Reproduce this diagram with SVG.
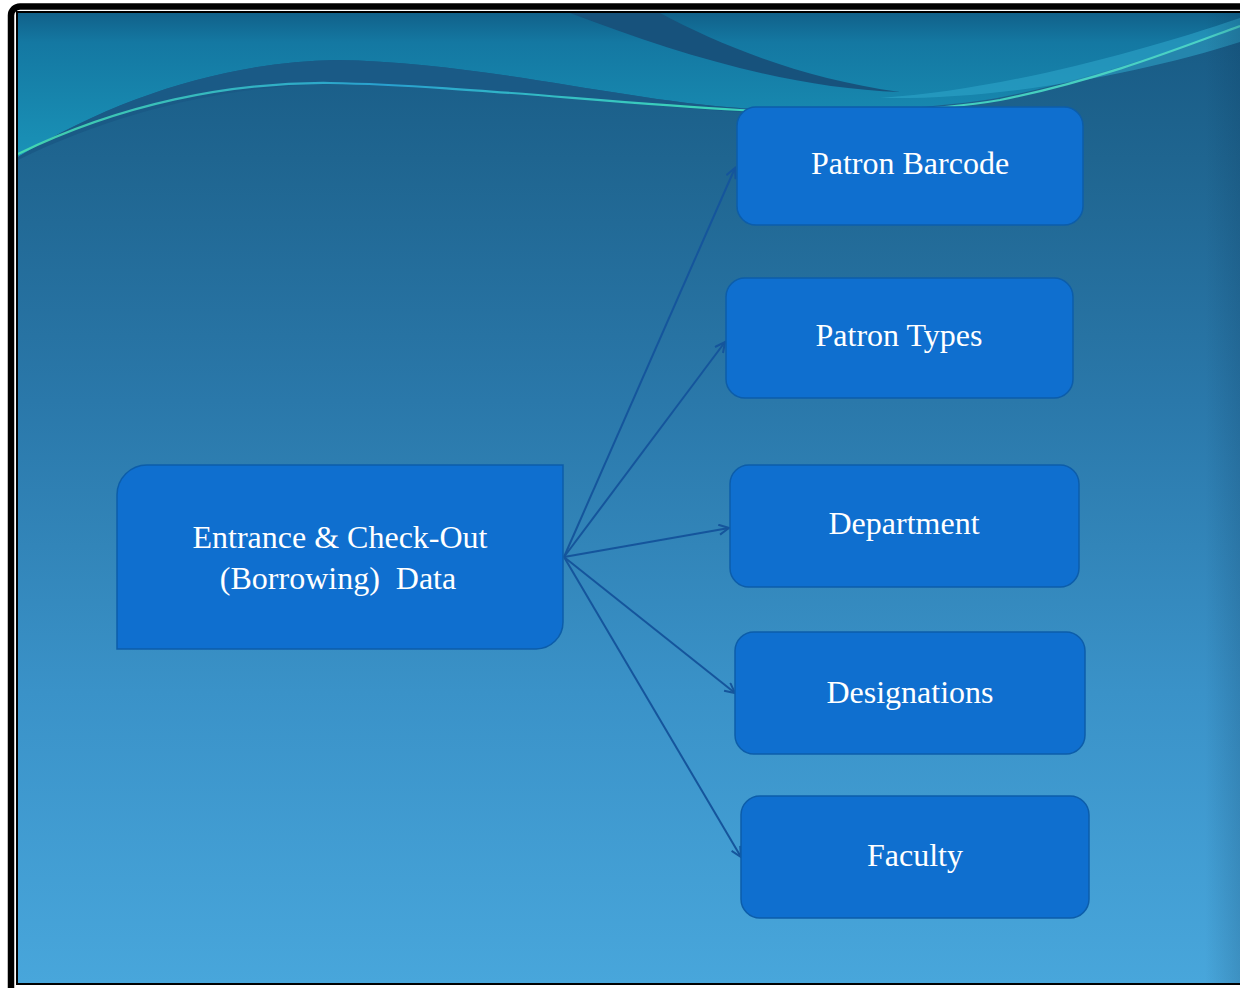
<svg xmlns="http://www.w3.org/2000/svg" width="1240" height="988" viewBox="0 0 1240 988">
  <defs>
    <linearGradient id="bg" x1="0" y1="13" x2="0" y2="983" gradientUnits="userSpaceOnUse">
      <stop offset="0" stop-color="#175a84"/>
      <stop offset="0.15" stop-color="#1f6590"/>
      <stop offset="0.4" stop-color="#2a78aa"/>
      <stop offset="0.7" stop-color="#3a92c8"/>
      <stop offset="1" stop-color="#48a6db"/>
    </linearGradient>
    <linearGradient id="teal" x1="0" y1="13" x2="0" y2="160" gradientUnits="userSpaceOnUse">
      <stop offset="0" stop-color="#11618a"/>
      <stop offset="0.2" stop-color="#1478a2"/>
      <stop offset="1" stop-color="#1a93b8"/>
    </linearGradient>
    <linearGradient id="glow" x1="18" y1="0" x2="1240" y2="0" gradientUnits="userSpaceOnUse">
      <stop offset="0" stop-color="#48e0b0"/>
      <stop offset="0.3" stop-color="#2aa8d8"/>
      <stop offset="0.55" stop-color="#40e0c0"/>
      <stop offset="1" stop-color="#50d8c8"/>
    </linearGradient>
    <linearGradient id="vign" x1="1205" y1="0" x2="1240" y2="0" gradientUnits="userSpaceOnUse">
      <stop offset="0" stop-color="#0a3050" stop-opacity="0"/>
      <stop offset="1" stop-color="#0a3050" stop-opacity="0.18"/>
    </linearGradient>
    <marker id="arr" markerWidth="14" markerHeight="14" refX="11" refY="6" orient="auto" markerUnits="userSpaceOnUse">
      <path d="M1,1 L11,6 L1,11" fill="none" stroke="#15559c" stroke-width="2"/>
    </marker>
    <style>
      .box { fill: #0f6fcf; stroke: #0c5daa; stroke-width: 1.5; }
      .lbl { font-family: "Liberation Serif", "Times New Roman", serif; font-size: 32px; fill: #ffffff; text-anchor: middle; }
      .edge { fill: none; stroke: #15559c; stroke-width: 2; marker-end: url(#arr); }
    </style>
  </defs>

  <!-- frame -->
  <rect x="0" y="0" width="1240" height="988" fill="#ffffff"/>
  <rect x="11" y="6.5" width="1300" height="1100" rx="9" fill="none" stroke="#000000" stroke-width="6.5"/>

  <!-- background -->
  <g id="background">
    <rect x="18" y="13" width="1222" height="970" fill="url(#bg)"/>
    <path d="M18,13 H1240 V28 C1160,55 1060,88 985,100 C900,112 820,112 740,108 C620,100 480,62 336,60 C230,62 120,95 18,157 Z" fill="url(#teal)"/>
    <path d="M18,157 C120,95 230,62 336,60 C480,62 620,100 740,108 L740,112 C620,104 450,83 330,84 C230,86 120,110 18,160 Z" fill="#1a5a86"/>
    <path d="M570,13 L660,13 C720,45 800,78 900,92 C790,88 680,55 570,13 Z" fill="#17527c"/>
    <path d="M880,98 C1000,90 1140,52 1240,18 L1240,42 C1140,74 1000,100 880,98 Z" fill="#2fa7cc" opacity="0.55"/>
    <path d="M18,154 C120,104 230,82 330,83 C450,85 600,102 740,110 C850,116 940,110 1000,100 C1100,80 1180,48 1240,26" fill="none" stroke="url(#glow)" stroke-width="2.2" opacity="0.9"/>
    <rect x="1205" y="13" width="35" height="970" fill="url(#vign)"/>
  </g>
  <rect x="17" y="12" width="1240" height="972" fill="none" stroke="#000000" stroke-width="2"/>

  <!-- connectors -->
  <g id="connectors">
    <line class="edge" x1="564" y1="557" x2="735" y2="168"/>
    <line class="edge" x1="564" y1="557" x2="725" y2="342"/>
    <line class="edge" x1="564" y1="557" x2="729" y2="528"/>
    <line class="edge" x1="564" y1="557" x2="735" y2="693"/>
    <line class="edge" x1="564" y1="557" x2="741" y2="857"/>
  </g>

  <!-- nodes -->
  <g id="node-main">
    <path class="box" d="M147,465 H563 V622 A27,27 0 0 1 536,649 H117 V495 A30,30 0 0 1 147,465 Z"/>
    <text class="lbl" x="340" y="548">Entrance &amp; Check-Out</text>
    <text class="lbl" x="338" y="589" xml:space="preserve">(Borrowing)  Data</text>
  </g>
  <g id="node-patron-barcode">
    <rect class="box" x="737" y="107" width="346" height="118" rx="19"/>
    <text class="lbl" x="910" y="174">Patron Barcode</text>
  </g>
  <g id="node-patron-types">
    <rect class="box" x="726" y="278" width="347" height="120" rx="19"/>
    <text class="lbl" x="899" y="346">Patron Types</text>
  </g>
  <g id="node-department">
    <rect class="box" x="730" y="465" width="349" height="122" rx="19"/>
    <text class="lbl" x="904" y="534">Department</text>
  </g>
  <g id="node-designations">
    <rect class="box" x="735" y="632" width="350" height="122" rx="19"/>
    <text class="lbl" x="910" y="703">Designations</text>
  </g>
  <g id="node-faculty">
    <rect class="box" x="741" y="796" width="348" height="122" rx="19"/>
    <text class="lbl" x="915" y="866">Faculty</text>
  </g>
</svg>
